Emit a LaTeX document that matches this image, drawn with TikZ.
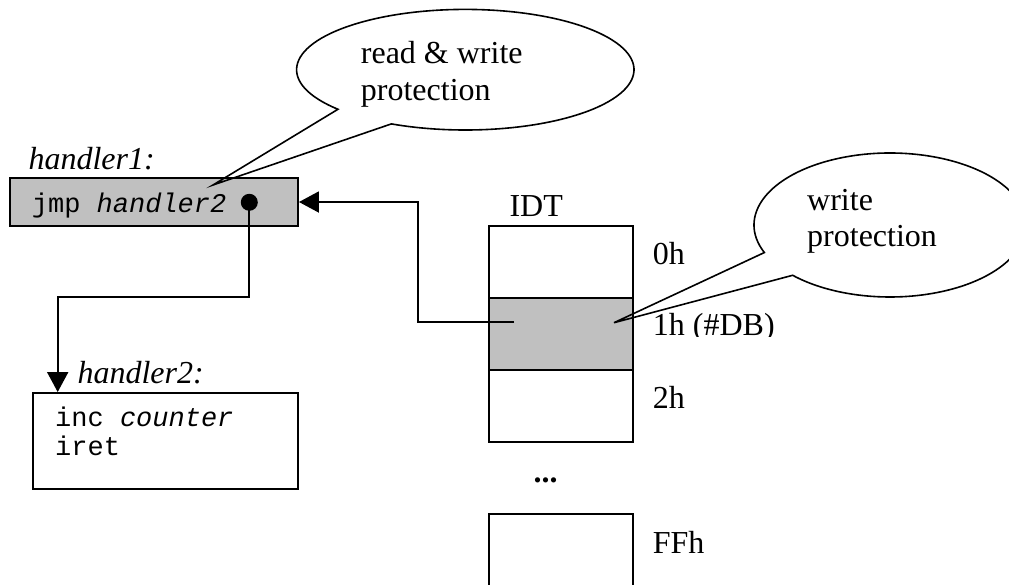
\documentclass[tikz,border=0pt]{standalone}
\usepackage{fontspec}
\setmainfont{Liberation Serif}
\setmonofont{Liberation Mono}
\usetikzlibrary{arrows.meta}
\definecolor{cellgray}{HTML}{C0C0C0}

\begin{document}
\begin{tikzpicture}[x=1pt,y=-1pt,
  box/.style={draw, line width=1.9pt, inner sep=0pt, rectangle},
  shaded/.style={fill=cellgray},
  lbl/.style={inner sep=0pt, anchor=base west, font=\fontsize{32}{37}\selectfont},
  code/.style={inner sep=0pt, anchor=base west, font=\fontsize{27}{28}\selectfont\ttfamily},
  link/.style={line width=1.9pt, -{Triangle[length=20pt,width=21pt]}},
  bubble/.style={draw, line width=1.6pt},
  knob/.style={circle, fill=black, inner sep=0pt, minimum size=17pt},
]
\useasboundingbox (0,0) rectangle (1009,584);
\clip (0,0) rectangle (1009,584);

% handler1 box
\node[box, shaded, minimum width=288pt, minimum height=48pt] (h1) at (154,202) {};
\node[lbl, font=\fontsize{32}{37}\selectfont\itshape] (h1lbl) at (28.3,169) {handler1:};
\node[code] (jmp) at (31.7,212) {jmp \textit{handler2}};
\node[knob] (knob) at (249.3,202.3) {};

% handler2 box
\node[box, minimum width=264.7pt, minimum height=96pt] (h2) at (165.7,441) {};
\node[lbl, font=\fontsize{32}{37}\selectfont\itshape] (h2lbl) at (77.3,383) {handler2:};
\node[code] (inc) at (55,426.7) {inc \textit{counter}};
\node[code] (iret) at (55,455) {iret};

% interrupt descriptor table
\node[lbl] (idt) at (509.3,216) {IDT};
\node[box, minimum width=144pt, minimum height=72pt] (c0) at (561.3,262) {};
\node[box, shaded, minimum width=144pt, minimum height=72pt] (c1) at (561.3,334) {};
\node[box, minimum width=144pt, minimum height=71.7pt] (c2) at (561.3,405.85) {};
\node[lbl, font=\fontsize{32}{37}\selectfont\bfseries] (dots) at (533.5,482) {...};
\node[box, minimum width=144pt, minimum height=100pt] (cff) at (561.3,564) {};

\node[lbl] (l0) at (652.7,264) {0h};
\begin{scope}
  \clip (640,290) rectangle (820,336.5);
  \node[lbl] (l1) at (652.7,335) {1h (\#DB)};
\end{scope}
\node[lbl] (l2) at (652.7,408) {2h};
\node[lbl] (lff) at (652.7,553) {FFh};

% jump from handler1 to handler2
\coordinate (bendA) at (57.7,297.3);
\draw[link] (knob.center) |- (bendA) -- (bendA |- h2.north);

% IDT entry 1 points to handler1
\coordinate (entry) at (514,322);
\coordinate (bendB) at (418,322);
\draw[link] (entry) -- (bendB) |- (h1.east);

% callouts
\coordinate (tipA) at (213,185);
\coordinate (rwc) at (465.3,69.7);
\draw[bubble] (rwc) ++(139:168.7 and 60.3)
  arc[start angle=139, end angle=476, x radius=168.7, y radius=60.3]
  -- (tipA) -- cycle;
\node[lbl] (rw1) at (360.7,63) {read \& write};
\node[lbl] (rw2) at (360.7,100) {protection};

\coordinate (tipB) at (614,322.7);
\coordinate (wc) at (890,225);
\draw[bubble] (wc) ++(157.5:136 and 72)
  arc[start angle=157.5, end angle=495.7, x radius=136, y radius=72]
  -- (tipB) -- cycle;
\node[lbl] (w1) at (807,210) {write};
\node[lbl] (w2) at (807,246.7) {protection};
\end{tikzpicture}
\end{document}
